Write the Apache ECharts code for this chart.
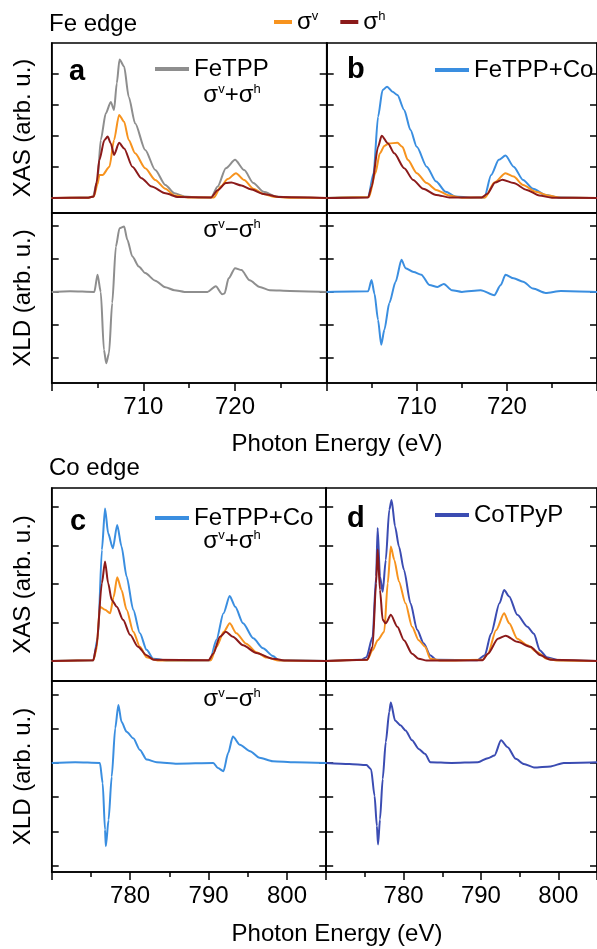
<!DOCTYPE html>
<html><head><meta charset="utf-8">
<script src="https://cdn.jsdelivr.net/npm/echarts@6/dist/echarts.min.js"></script>
<style>html,body{margin:0;padding:0;background:#fff}#c{width:597px;height:949px}</style>
</head><body><div id="c"></div>
<script>
// ---------- tick labels ----------
const xLabelsFe = [710, 720];
const xLabelsCo = [780, 790, 800];
const yTicksXasFe = [0, 1, 2, 3, 4];
const yTicksXldFe = [-2, -1, 0, 1, 2];
const yTicksXasCo = [0, 1, 2, 3, 4];
const yTicksXldCo = [-3, -2, -1, 0, 1, 2];

// ---------- panel a : FeTPP, Fe edge ----------
const aSum = [[700,0],[702,0.01],[704,0.02],[704.5,0.05],[705.0,0.58],[705.35,1.87],[705.9,2.73],[706.45,3.1],[706.8,2.84],[707.1,3.7],[707.4,4.47],[707.9,4.24],[708.4,3.27],[709.1,2.41],[710.2,1.55],[711.3,0.9],[712.4,0.42],[713.4,0.15],[714.5,0.05],[716,0.02],[717.4,0.02],[718.1,0.37],[719.0,0.96],[720.0,1.23],[721.0,0.9],[722.0,0.48],[723.1,0.2],[724.5,0.05],[726,0.02],[728,0.01],[730,0]];
const aV = [[700,0],[704,0.01],[704.6,0.05],[705.0,0.45],[705.2,0.74],[705.55,0.74],[706.3,1.01],[706.8,1.87],[707.35,2.68],[707.9,2.46],[708.4,1.87],[709.1,1.44],[710.2,0.96],[711.3,0.58],[712.4,0.3],[713.4,0.08],[715,0.02],[717.7,0.02],[718.45,0.37],[719.2,0.61],[720.1,0.8],[721.0,0.58],[722.0,0.3],[723.1,0.13],[724.2,0.04],[726,0.01],[730,0]];
const aH = [[700,0],[704,0.01],[704.6,0.05],[704.9,0.5],[705.2,1.23],[705.75,1.87],[706.1,1.98],[706.45,1.76],[706.8,1.39],[707.35,1.78],[707.9,1.6],[708.8,1.01],[709.8,0.64],[710.9,0.37],[712.4,0.15],[713.8,0.03],[717.4,0.02],[718.1,0.25],[719.0,0.48],[719.6,0.5],[720.7,0.4],[721.7,0.28],[723.1,0.13],[724.9,0.03],[730,0]];
const aXld = [[700,0],[702,0.02],[704.65,0],[705.0,0.52],[705.35,0],[705.7,-1.76],[705.95,-2.16],[706.25,-1.86],[706.6,-0.34],[707.0,1.37],[707.4,1.93],[707.9,1.98],[708.25,1.58],[708.8,1.07],[709.5,0.77],[710.2,0.57],[711.3,0.34],[712.4,0.14],[713.4,0.05],[714.5,0],[717.0,0],[717.9,0.17],[718.6,-0.07],[718.85,-0.05],[719.3,0.41],[720.0,0.72],[720.7,0.66],[721.6,0.35],[722.7,0.15],[723.8,0.05],[726,0.03],[730,0]];

// ---------- panel b : FeTPP+Co, Fe edge ----------
const bSum = [[700,0],[704.6,0.03],[705.2,0.8],[705.7,2.62],[706.2,3.48],[706.7,3.59],[707.3,3.43],[707.85,3.32],[708.6,2.84],[709.3,2.19],[710.0,1.65],[711.1,1.01],[712.15,0.53],[713.2,0.2],[714.3,0.05],[716,0.01],[717.5,0.02],[718.25,0.74],[719.1,1.23],[719.85,1.37],[720.75,1.01],[721.8,0.58],[722.9,0.3],[724.3,0.1],[725.7,0.02],[730,0]];
const bV = [[700,0],[704.7,0.03],[705.4,0.8],[705.9,1.44],[706.4,1.68],[706.9,1.76],[707.85,1.78],[708.4,1.65],[709.0,1.23],[710.0,0.8],[711.1,0.48],[712.15,0.26],[713.6,0.08],[715,0.01],[717.6,0.02],[718.6,0.5],[719.85,0.8],[720.75,0.69],[721.8,0.42],[723.2,0.2],[724.6,0.08],[726,0.01],[730,0]];
const bH = [[700,0],[704.6,0.02],[705.0,0.37],[705.7,1.65],[706.1,2.01],[706.8,1.76],[707.5,1.44],[708.6,0.96],[709.6,0.58],[710.7,0.3],[712.15,0.1],[713.6,0.02],[717.2,0.02],[717.8,0.13],[718.7,0.5],[719.5,0.59],[720.75,0.48],[722.2,0.26],[723.6,0.08],[725,0.01],[730,0]];
const bXld = [[700,0],[704.6,0.02],[704.98,0.36],[705.3,-0.05],[705.7,-0.85],[706.05,-1.6],[706.4,-1.15],[706.95,-0.34],[707.65,0.31],[708.3,0.97],[708.75,0.72],[709.65,0.6],[710.5,0.52],[711.4,0.21],[712.3,0.15],[713.0,0.24],[713.9,0.05],[715.0,0],[717.1,0.05],[718.6,-0.1],[719.3,0.2],[719.85,0.52],[720.75,0.41],[721.8,0.31],[722.9,0.1],[724.3,-0.03],[726,0.03],[730,0]];

// ---------- panel c : FeTPP+Co, Co edge ----------
const cSum = [[770,0],[775.3,0.02],[775.9,0.63],[776.4,2.89],[776.8,3.97],[777.2,3.32],[777.8,2.93],[778.35,3.54],[778.9,2.98],[779.55,2.2],[780.4,1.33],[781.25,0.72],[782.1,0.29],[782.95,0.06],[785,0.01],[790.2,0.02],[791.0,0.55],[791.9,1.24],[792.7,1.69],[793.4,1.41],[794.4,0.98],[795.7,0.59],[796.95,0.33],[798.2,0.13],[799,0.02],[805,0]];
const cV = [[770,0],[775.3,0.02],[775.7,0.28],[776.15,1.41],[776.8,1.33],[777.45,1.24],[777.9,1.67],[778.35,2.18],[778.9,1.85],[779.55,1.33],[780.4,0.76],[781.25,0.37],[782.1,0.1],[783.5,0.01],[790.3,0.02],[791.0,0.37],[791.95,0.76],[792.7,0.98],[793.55,0.72],[794.8,0.45],[796.1,0.23],[797.4,0.09],[799,0.01],[805,0]];
const cH = [[770,0],[775.3,0.02],[775.7,0.37],[776.4,2.02],[776.8,2.59],[777.2,2.02],[777.65,1.59],[778.3,1.41],[779.1,1.07],[780.0,0.68],[781.0,0.37],[782.1,0.15],[783,0.03],[790.0,0.02],[790.6,0.19],[791.45,0.63],[792.2,0.76],[793.1,0.63],[794.4,0.41],[796.1,0.21],[798.2,0.06],[800,0.01],[805,0]];
const cXld = [[770,0],[773,0.02],[776.15,0],[776.5,-0.59],[776.8,-1.95],[776.9,-2.43],[777.25,-1.66],[777.65,-0.4],[778.1,1.01],[778.5,1.69],[778.9,1.2],[779.55,0.91],[780.4,0.72],[781.25,0.38],[782.1,0.1],[783.4,0.02],[786,-0.02],[790.6,0],[791.2,-0.15],[791.9,-0.24],[792.5,0.29],[793.1,0.77],[794.0,0.53],[795.3,0.34],[796.5,0.15],[798.2,0.05],[801,0.02],[805,0]];

// ---------- panel d : CoTPyP, Co edge ----------
const dSum = [[770,0],[774.5,0.03],[775.2,0.1],[776.0,0.63],[776.45,2.2],[776.65,3.46],[776.95,2.2],[777.3,1.8],[777.7,2.63],[778.15,3.93],[778.45,4.19],[778.9,3.5],[779.4,2.98],[780.05,2.37],[780.9,1.5],[781.75,0.81],[782.6,0.46],[783.45,0.15],[784.2,0.03],[789.5,0.02],[790.5,0.15],[791.3,0.71],[792.4,1.5],[793.0,1.85],[793.65,1.68],[794.7,1.2],[796.0,0.89],[796.85,0.71],[797.6,0.28],[798.5,0.1],[800,0.02],[805,0]];
const dV = [[770,0],[775.3,0.03],[776.0,0.28],[776.65,0.54],[777.5,0.76],[777.95,2.02],[778.35,2.98],[778.8,2.63],[779.4,2.07],[780.25,1.5],[781.1,0.89],[781.95,0.54],[782.8,0.37],[783.45,0.06],[785,0.01],[790.2,0.03],[790.9,0.19],[791.95,0.8],[793.0,1.24],[793.65,0.98],[794.7,0.58],[796.0,0.41],[797.3,0.23],[798.5,0.06],[800,0.01],[805,0]];
const dH = [[770,0],[775.3,0.03],[776.0,0.37],[776.45,2.02],[776.65,2.9],[776.95,1.85],[777.3,1.07],[777.7,0.98],[778.35,1.2],[779.2,0.89],[780.05,0.54],[781.1,0.19],[781.95,0.06],[783,0.01],[790.2,0.02],[790.9,0.19],[792.2,0.58],[793.2,0.66],[794.7,0.5],[796.4,0.37],[797.7,0.15],[799.0,0.03],[805,0]];
const dXld = [[770,0],[773,-0.03],[775.2,-0.06],[775.8,-0.18],[776.25,-0.96],[776.55,-1.84],[776.7,-2.38],[776.95,-1.65],[777.3,-0.47],[777.7,0.61],[778.15,1.49],[778.35,1.76],[778.9,1.24],[779.6,1.1],[780.25,0.95],[781.1,0.66],[781.95,0.41],[782.8,0.26],[783.45,0.02],[786.2,0],[789.6,0.02],[790.9,0.14],[791.75,0.22],[792.6,0.66],[793.45,0.46],[794.5,0.12],[795.55,-0.03],[796.85,-0.13],[799.0,-0.1],[800.7,0],[805,0.02]];

// ---------- styling ----------
const FONT = '"Liberation Sans", Arial, sans-serif';
const COL = {grey:'#8e8e8e', orange:'#f7931e', red:'#8b1a1a', blue:'#3a8ee0', indigo:'#3b4cb2'};
const FS = 24;
const RICH = {s:{fontSize:13, fontFamily:FONT, color:'#000', verticalAlign:'top'}, n:{fontSize:FS, fontFamily:FONT, color:'#000'}};

// grid layout: [left, top, width, height]
const G = [
  [51.7, 43, 275, 170],   // a XAS
  [51.7, 213, 275, 170],  // a XLD
  [326.7, 43, 279, 170],  // b XAS
  [326.7, 213, 279, 170], // b XLD
  [51.7, 488, 274.5, 193],// c XAS
  [51.7, 681, 274.5, 191],// c XLD
  [326.2, 488, 274.5, 193],// d XAS
  [326.2, 681, 274.5, 191] // d XLD
];
const YR = [[-0.484,5.0],[-2.76,2.39],[-0.484,5.0],[-2.76,2.39],[-0.52,4.5],[-3.18,2.39],[-0.52,4.5],[-3.18,2.39]];
const YT = [yTicksXasFe, yTicksXldFe, yTicksXasFe, yTicksXldFe, yTicksXasCo, yTicksXldCo, yTicksXasCo, yTicksXldCo];
const XR = [[700,730],[700,730],[700,730],[700,730],[770,805],[770,805],[770,805],[770,805]];
const XL = [xLabelsFe, xLabelsFe, xLabelsFe, xLabelsFe, xLabelsCo, xLabelsCo, xLabelsCo, xLabelsCo];
const YNAME = ['XAS (arb. u.)','XLD (arb. u.)','','','XAS (arb. u.)','XLD (arb. u.)','',''];

const black = {color:'#000', width:1.5};
const grid = G.map(g => ({left:g[0], top:g[1], width:g[2], height:g[3], show:true, borderColor:'#000', borderWidth:1.5, containLabel:false}));
const xAxis = G.map((g,i) => {
  const isXld = i % 2 === 1;
  return {
    type:'value', gridIndex:i, min:XR[i][0], max:XR[i][1], interval:10,
    axisLine:{show:true, onZero:false, lineStyle:black},
    axisTick:{show:isXld, inside:false, length:8, lineStyle:black},
    minorTick:{show:isXld, splitNumber:2, length:5, lineStyle:black},
    axisLabel:{show:isXld, customValues:XL[i], fontSize:FS, fontFamily:FONT, color:'#000', margin:12},
    splitLine:{show:false}, minorSplitLine:{show:false}
  };
});
const yAxis = [];
G.forEach((g,i) => {
  ['left','right'].forEach(pos => {
    yAxis.push({
      type:'value', gridIndex:i, position:pos, min:YR[i][0], max:YR[i][1],
      name: pos === 'left' ? YNAME[i] : '', nameLocation:'middle', nameGap:16, nameRotate:90,
      nameTextStyle:{fontSize:FS, fontFamily:FONT, color:'#000'},
      axisLine:{show:true, onZero:false, lineStyle:black},
      axisTick:{show:true, inside:true, length:7, customValues:YT[i], lineStyle:black},
      axisLabel:{show:false}, splitLine:{show:false}
    });
  });
});

function line(name, data, gi, color) {
  return {type:'line', name, data, xAxisIndex:gi, yAxisIndex:gi*2, showSymbol:false, symbol:'none',
          smooth:0.25, smoothMonotone:'x',
          lineStyle:{color, width:2}, itemStyle:{color}, clip:true, z:3};
}
const series = [
  line('FeTPP', aSum, 0, COL.grey), line('σᵛ', aV, 0, COL.orange), line('σʰ', aH, 0, COL.red),
  line('FeTPP σᵛ−σʰ', aXld, 1, COL.grey),
  line('FeTPP+Co', bSum, 2, COL.blue), line('σᵛ', bV, 2, COL.orange), line('σʰ', bH, 2, COL.red),
  line('FeTPP+Co σᵛ−σʰ (Fe)', bXld, 3, COL.blue),
  line('FeTPP+Co', cSum, 4, COL.blue), line('σᵛ', cV, 4, COL.orange), line('σʰ', cH, 4, COL.red),
  line('FeTPP+Co σᵛ−σʰ (Co)', cXld, 5, COL.blue),
  line('CoTPyP', dSum, 6, COL.indigo), line('σᵛ', dV, 6, COL.orange), line('σʰ', dH, 6, COL.red),
  line('CoTPyP σᵛ−σʰ', dXld, 7, COL.indigo)
];

const legTxt = {fontSize:FS, fontFamily:FONT, color:'#000', rich:RICH};
const supFmt = n => n === 'σᵛ' ? '{n|σ}{s|v}' : (n === 'σʰ' ? '{n|σ}{s|h}' : n);
const legend = [
  {data:['σᵛ','σʰ'], left:274, top:10, icon:'rect', itemWidth:18, itemHeight:4, itemGap:22, formatter:supFmt, textStyle:legTxt, selectedMode:false, padding:0},
  {data:['FeTPP'], left:155, top:57, icon:'rect', itemWidth:34, itemHeight:4, textStyle:legTxt, selectedMode:false, padding:0},
  {data:['FeTPP+Co'], left:435, top:58, icon:'rect', itemWidth:34, itemHeight:4, textStyle:legTxt, selectedMode:false, padding:0},
  {data:['FeTPP+Co'], left:155, top:506, icon:'rect', itemWidth:34, itemHeight:4, textStyle:legTxt, selectedMode:false, padding:0},
  {data:['CoTPyP'], left:435, top:503, icon:'rect', itemWidth:34, itemHeight:4, textStyle:legTxt, selectedMode:false, padding:0}
];

function txt(t, x, y, opt) {
  opt = opt || {};
  const st = {text:t, fill:'#000', fontSize:opt.size||FS, fontFamily:FONT,
    fontWeight:opt.bold?'bold':'normal', textAlign:opt.align||'left', textVerticalAlign:'middle'};
  if (opt.rich) st.rich = RICH;
  return {type:'text', x, y, z:10, style:st};
}
const graphic = [
  txt('Fe edge', 49, 24),
  txt('a', 69, 72, {size:29, bold:true}),
  txt('b', 347, 70, {size:29, bold:true}),
  txt('{n|σ}{s|v}{n|+σ}{s|h}', 232, 95, {align:'center', rich:true}),
  txt('{n|σ}{s|v}{n|−σ}{s|h}', 232, 230, {align:'center', rich:true}),
  txt('Photon Energy (eV)', 337, 444, {align:'center'}),
  txt('Co edge', 49, 468),
  txt('c', 70, 522, {size:29, bold:true}),
  txt('d', 347, 519, {size:29, bold:true}),
  txt('{n|σ}{s|v}{n|+σ}{s|h}', 232, 541, {align:'center', rich:true}),
  txt('{n|σ}{s|v}{n|−σ}{s|h}', 232, 699, {align:'center', rich:true}),
  txt('Photon Energy (eV)', 337, 934, {align:'center'})
];

const chart = echarts.init(document.getElementById('c'), null, {renderer:'canvas'});
chart.setOption({animation:false, backgroundColor:'#fff', grid, xAxis, yAxis, series, legend, graphic});
</script></body></html>
